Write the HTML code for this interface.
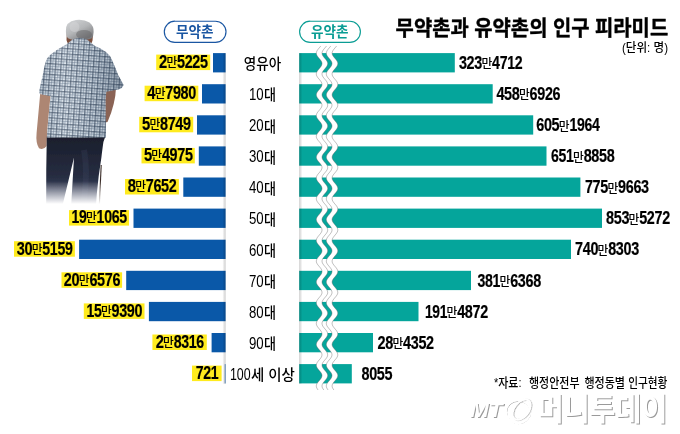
<!DOCTYPE html>
<html lang="ko">
<head>
<meta charset="utf-8">
<title>무약촌과 유약촌의 인구 피라미드</title>
<style>
html,body{margin:0;padding:0;background:#fff;}
body{width:680px;height:434px;overflow:hidden;font-family:"Liberation Sans","Noto Sans CJK KR",sans-serif;}
svg{display:block;}
</style>
</head>
<body>
<svg width="680" height="434" viewBox="0 0 680 434">
<defs>
<linearGradient id="shL" x1="0" x2="1" y1="0" y2="0"><stop offset="0" stop-color="#000" stop-opacity="0"/><stop offset="1" stop-color="#000" stop-opacity="0.2"/></linearGradient>
<linearGradient id="shR" x1="0" x2="1" y1="0" y2="0"><stop offset="0" stop-color="#000" stop-opacity="0.2"/><stop offset="1" stop-color="#000" stop-opacity="0"/></linearGradient>
<linearGradient id="fade" x1="0" x2="0" y1="181" y2="204" gradientUnits="userSpaceOnUse"><stop offset="0" stop-color="#fff" stop-opacity="0"/><stop offset="1" stop-color="#fff" stop-opacity="1"/></linearGradient>
<linearGradient id="hair" x1="0.1" x2="0.8" y1="0" y2="1"><stop offset="0" stop-color="#d2d4d6"/><stop offset="0.5" stop-color="#b4b6b8"/><stop offset="1" stop-color="#77777a"/></linearGradient>
<linearGradient id="pants" x1="0" x2="0" y1="137" y2="200" gradientUnits="userSpaceOnUse"><stop offset="0" stop-color="#1a1e2c"/><stop offset="0.6" stop-color="#262c40"/><stop offset="1" stop-color="#3a4360"/></linearGradient>
<linearGradient id="shade" x1="40" x2="123" y1="0" y2="0" gradientUnits="userSpaceOnUse"><stop offset="0" stop-color="#465a70" stop-opacity="0.15"/><stop offset="0.3" stop-color="#fff" stop-opacity="0.1"/><stop offset="0.65" stop-color="#465a70" stop-opacity="0.12"/><stop offset="1" stop-color="#2e4056" stop-opacity="0.4"/></linearGradient>
<pattern id="plaid" width="5.4" height="5.4" patternUnits="userSpaceOnUse" patternTransform="rotate(4)">
<rect width="5.4" height="5.4" fill="#cfdbe6"/>
<rect x="0" y="0" width="1.3" height="5.4" fill="#2b3b52" opacity="0.62"/>
<rect x="2.9" y="0" width="0.8" height="5.4" fill="#2b3b52" opacity="0.36"/>
<rect x="0" y="0" width="5.4" height="1.3" fill="#2b3b52" opacity="0.62"/>
<rect x="0" y="2.9" width="5.4" height="0.8" fill="#2b3b52" opacity="0.36"/>
<rect x="1.5" y="1.5" width="1.2" height="1.2" fill="#ffffff" opacity="0.6"/>
<rect x="3.9" y="3.9" width="1.3" height="1.3" fill="#ffffff" opacity="0.6"/>
</pattern>
<filter id="b05" x="-20%" y="-20%" width="140%" height="140%"><feGaussianBlur stdDeviation="0.5"/></filter>
<filter id="b1" x="-20%" y="-20%" width="140%" height="140%"><feGaussianBlur stdDeviation="0.9"/></filter>
<filter id="wmb" x="-10%" y="-20%" width="120%" height="140%"><feGaussianBlur stdDeviation="0.55"/></filter>
</defs>
<rect width="680" height="434" fill="#fff"/>
<g id="man">
<g filter="url(#b05)">
<path d="M66.8,33 L66.5,40 Q67.5,45 72,46.5 L88,46.5 Q91.6,45 92.6,40 L93,33 Z" fill="#7b4f3e"/>
<path d="M65.9,31 Q65.2,21.5 76,19.9 Q84,19 89.5,22.5 Q94,26 93.6,32 Q93.6,36.5 91.6,38.6 Q86,40.5 79.5,39.5 Q72,40.5 68,38.2 Q65.9,36 65.9,31 Z" fill="url(#hair)"/>
<ellipse cx="84" cy="34.5" rx="8" ry="4.5" fill="#5e5e60" opacity="0.45"/>
<ellipse cx="74.5" cy="27" rx="5" ry="5" fill="#d6d8da" opacity="0.45"/>
<path d="M40.2,93.5 L50.5,95.5 L48.4,118 Q47.4,128 46.6,146 Q43.5,150.5 39,148.3 Q35.6,143 36.6,133 Z" fill="#ad8673"/>
<path d="M104,88.5 L116,87.5 Q115.5,104 107.5,122 L103,123 Z" fill="#8a6454"/>
<path d="M46.8,136.5 L105.3,136.5 L103.4,142 Q102,152 101.4,157.6 L98.7,176 L96.8,194 L96,205 L71.2,205 L74,157.4 L62.6,205 L46.2,205 Q46,170 46.8,136.5 Z" fill="url(#pants)"/>
<path d="M84,150 Q88,170 84,200" stroke="#4d5a7c" stroke-width="6" fill="none" opacity="0.18"/>
<path d="M101.2,165 L99.4,204" stroke="#3a2c28" stroke-width="1.1" fill="none"/>
<path id="shirt" d="M72.5,39.4 Q79.5,36.6 87,39.4 L92,43.4 L94.2,45.4 Q101,48 106,52 Q110,55 112,60 Q115.5,68 118.2,75 L123.6,85 Q122.5,88.3 119,89.3 L106.3,91.8 L105.6,100 L106,137.6 L46.8,137.6 L49.2,110 L50.8,96.3 L39.8,94 Q38.9,92 39.4,90 L42.8,75 Q44.5,64 47,58.5 Q50,54.5 54,52 Q59,48.5 64.5,45.6 L67.5,43.4 Z" fill="url(#plaid)"/>
<path d="M72.5,39.4 Q79.5,36.6 87,39.4 L92,43.4 L94.2,45.4 Q101,48 106,52 Q110,55 112,60 Q115.5,68 118.2,75 L123.6,85 Q122.5,88.3 119,89.3 L106.3,91.8 L105.6,100 L106,137.6 L46.8,137.6 L49.2,110 L50.8,96.3 L39.8,94 Q38.9,92 39.4,90 L42.8,75 Q44.5,64 47,58.5 Q50,54.5 54,52 Q59,48.5 64.5,45.6 L67.5,43.4 Z" fill="url(#shade)"/>
</g>
<rect x="30" y="176" width="90" height="31" fill="url(#fade)"/>
</g>
<rect x="213.00" y="53.10" width="12.60" height="19.3" fill="#0a58a8"/>
<rect x="299.20" y="53.10" width="155.60" height="19.3" fill="#05a59b"/>
<rect x="202.00" y="84.20" width="23.60" height="19.3" fill="#0a58a8"/>
<rect x="299.20" y="84.20" width="193.50" height="19.3" fill="#05a59b"/>
<rect x="197.00" y="115.30" width="28.60" height="19.3" fill="#0a58a8"/>
<rect x="299.20" y="115.30" width="234.00" height="19.3" fill="#05a59b"/>
<rect x="198.80" y="146.40" width="26.80" height="19.3" fill="#0a58a8"/>
<rect x="299.20" y="146.40" width="247.30" height="19.3" fill="#05a59b"/>
<rect x="183.30" y="177.50" width="42.30" height="19.3" fill="#0a58a8"/>
<rect x="299.20" y="177.50" width="281.20" height="19.3" fill="#05a59b"/>
<rect x="133.50" y="208.60" width="92.10" height="19.3" fill="#0a58a8"/>
<rect x="299.20" y="208.60" width="302.80" height="19.3" fill="#05a59b"/>
<rect x="79.10" y="239.70" width="146.50" height="19.3" fill="#0a58a8"/>
<rect x="299.20" y="239.70" width="271.80" height="19.3" fill="#05a59b"/>
<rect x="126.20" y="270.80" width="99.40" height="19.3" fill="#0a58a8"/>
<rect x="299.20" y="270.80" width="171.80" height="19.3" fill="#05a59b"/>
<rect x="148.90" y="301.90" width="76.70" height="19.3" fill="#0a58a8"/>
<rect x="299.20" y="301.90" width="119.30" height="19.3" fill="#05a59b"/>
<rect x="211.60" y="333.00" width="14.00" height="19.3" fill="#0a58a8"/>
<rect x="299.20" y="333.00" width="73.80" height="19.3" fill="#05a59b"/>
<rect x="224.70" y="364.10" width="0.9" height="19.3" fill="#0a58a8" opacity="0.7"/>
<rect x="299.20" y="364.10" width="52.60" height="19.3" fill="#05a59b"/>
<rect x="222.40" y="53.10" width="3.2" height="330.70" fill="url(#shL)"/>
<rect x="299.20" y="53.10" width="3.2" height="330.70" fill="url(#shR)"/>
<path d="M320.8,46L320.0,47L319.1,48L318.3,49L317.5,50L316.9,51L316.5,52L316.3,53L316.4,54L316.7,55L317.3,56L318.0,57L318.8,58L319.7,59L320.5,60L321.2,61L321.7,62L322.0,63L322.0,64L321.7,65L321.3,66L320.6,67L319.8,68L319.0,69L318.1,70L317.4,71L316.8,72L316.4,73L316.3,74L316.4,75L316.8,76L317.4,77L318.1,78L319.0,79L319.8,80L320.6,81L321.3,82L321.7,83L322.0,84L322.0,85L321.7,86L321.2,87L320.5,88L319.7,89L318.8,90L318.0,91L317.3,92L316.7,93L316.4,94L316.3,95L316.5,96L316.9,97L317.5,98L318.3,99L319.1,100L320.0,101L320.8,102L321.4,103L321.8,104L322.0,105L321.9,106L321.6,107L321.0,108L320.3,109L319.5,110L318.6,111L317.8,112L317.1,113L316.6,114L316.3,115L316.3,116L316.6,117L317.0,118L317.7,119L318.5,120L319.3,121L320.2,122L320.9,123L321.5,124L321.9,125L322.0,126L321.9,127L321.5,128L320.9,129L320.2,130L319.3,131L318.5,132L317.7,133L317.0,134L316.6,135L316.3,136L316.3,137L316.6,138L317.1,139L317.8,140L318.6,141L319.5,142L320.3,143L321.0,144L321.6,145L321.9,146L322.0,147L321.8,148L321.4,149L320.8,150L320.0,151L319.1,152L318.3,153L317.5,154L316.9,155L316.5,156L316.3,157L316.4,158L316.7,159L317.3,160L318.0,161L318.8,162L319.7,163L320.5,164L321.2,165L321.7,166L322.0,167L322.0,168L321.7,169L321.3,170L320.6,171L319.8,172L319.0,173L318.1,174L317.4,175L316.8,176L316.4,177L316.3,178L316.4,179L316.8,180L317.4,181L318.1,182L319.0,183L319.8,184L320.6,185L321.3,186L321.7,187L322.0,188L322.0,189L321.7,190L321.2,191L320.5,192L319.7,193L318.8,194L318.0,195L317.3,196L316.7,197L316.4,198L316.3,199L316.5,200L316.9,201L317.5,202L318.3,203L319.1,204L320.0,205L320.8,206L321.4,207L321.8,208L322.0,209L321.9,210L321.6,211L321.0,212L320.3,213L319.5,214L318.6,215L317.8,216L317.1,217L316.6,218L316.3,219L316.3,220L316.6,221L317.0,222L317.7,223L318.5,224L319.3,225L320.2,226L320.9,227L321.5,228L321.9,229L322.0,230L321.9,231L321.5,232L320.9,233L320.2,234L319.3,235L318.5,236L317.7,237L317.0,238L316.6,239L316.3,240L316.3,241L316.6,242L317.1,243L317.8,244L318.6,245L319.5,246L320.3,247L321.0,248L321.6,249L321.9,250L322.0,251L321.8,252L321.4,253L320.8,254L320.0,255L319.1,256L318.3,257L317.5,258L316.9,259L316.5,260L316.3,261L316.4,262L316.7,263L317.3,264L318.0,265L318.8,266L319.7,267L320.5,268L321.2,269L321.7,270L322.0,271L322.0,272L321.7,273L321.3,274L320.6,275L319.8,276L319.0,277L318.1,278L317.4,279L316.8,280L316.4,281L316.3,282L316.4,283L316.8,284L317.4,285L318.1,286L319.0,287L319.8,288L320.6,289L321.3,290L321.7,291L322.0,292L322.0,293L321.7,294L321.2,295L320.5,296L319.7,297L318.8,298L318.0,299L317.3,300L316.7,301L316.4,302L316.3,303L316.5,304L316.9,305L317.5,306L318.3,307L319.1,308L320.0,309L320.8,310L321.4,311L321.8,312L322.0,313L321.9,314L321.6,315L321.0,316L320.3,317L319.5,318L318.6,319L317.8,320L317.1,321L316.6,322L316.3,323L316.3,324L316.6,325L317.0,326L317.7,327L318.5,328L319.3,329L320.2,330L320.9,331L321.5,332L321.9,333L322.0,334L321.9,335L321.5,336L320.9,337L320.2,338L319.3,339L318.5,340L317.7,341L317.0,342L316.6,343L316.3,344L316.3,345L316.6,346L317.1,347L317.8,348L318.6,349L319.5,350L320.3,351L321.0,352L321.6,353L321.9,354L322.0,355L321.8,356L321.4,357L320.8,358L320.0,359L319.1,360L318.3,361L317.5,362L316.9,363L316.5,364L316.3,365L316.4,366L316.7,367L317.3,368L318.0,369L318.8,370L319.7,371L320.5,372L321.2,373L321.7,374L322.0,375L322.0,376L321.7,377L321.3,378L320.6,379L319.8,380L319.0,381L318.1,382L317.4,383L316.8,384L316.4,385L316.3,386L316.4,387L316.8,388L317.4,389L318.1,390L323.8,390L323.1,389L322.5,388L322.1,387L322.0,386L322.1,385L322.5,384L323.1,383L323.8,382L324.7,381L325.5,380L326.3,379L327.0,378L327.4,377L327.7,376L327.7,375L327.4,374L326.9,373L326.2,372L325.4,371L324.5,370L323.7,369L323.0,368L322.4,367L322.1,366L322.0,365L322.2,364L322.6,363L323.2,362L324.0,361L324.8,360L325.7,359L326.5,358L327.1,357L327.5,356L327.7,355L327.6,354L327.3,353L326.7,352L326.0,351L325.2,350L324.3,349L323.5,348L322.8,347L322.3,346L322.0,345L322.0,344L322.3,343L322.7,342L323.4,341L324.2,340L325.0,339L325.9,338L326.6,337L327.2,336L327.6,335L327.7,334L327.6,333L327.2,332L326.6,331L325.9,330L325.0,329L324.2,328L323.4,327L322.7,326L322.3,325L322.0,324L322.0,323L322.3,322L322.8,321L323.5,320L324.3,319L325.2,318L326.0,317L326.7,316L327.3,315L327.6,314L327.7,313L327.5,312L327.1,311L326.5,310L325.7,309L324.8,308L324.0,307L323.2,306L322.6,305L322.2,304L322.0,303L322.1,302L322.4,301L323.0,300L323.7,299L324.5,298L325.4,297L326.2,296L326.9,295L327.4,294L327.7,293L327.7,292L327.4,291L327.0,290L326.3,289L325.5,288L324.7,287L323.8,286L323.1,285L322.5,284L322.1,283L322.0,282L322.1,281L322.5,280L323.1,279L323.8,278L324.7,277L325.5,276L326.3,275L327.0,274L327.4,273L327.7,272L327.7,271L327.4,270L326.9,269L326.2,268L325.4,267L324.5,266L323.7,265L323.0,264L322.4,263L322.1,262L322.0,261L322.2,260L322.6,259L323.2,258L324.0,257L324.8,256L325.7,255L326.5,254L327.1,253L327.5,252L327.7,251L327.6,250L327.3,249L326.7,248L326.0,247L325.2,246L324.3,245L323.5,244L322.8,243L322.3,242L322.0,241L322.0,240L322.3,239L322.7,238L323.4,237L324.2,236L325.0,235L325.9,234L326.6,233L327.2,232L327.6,231L327.7,230L327.6,229L327.2,228L326.6,227L325.9,226L325.0,225L324.2,224L323.4,223L322.7,222L322.3,221L322.0,220L322.0,219L322.3,218L322.8,217L323.5,216L324.3,215L325.2,214L326.0,213L326.7,212L327.3,211L327.6,210L327.7,209L327.5,208L327.1,207L326.5,206L325.7,205L324.8,204L324.0,203L323.2,202L322.6,201L322.2,200L322.0,199L322.1,198L322.4,197L323.0,196L323.7,195L324.5,194L325.4,193L326.2,192L326.9,191L327.4,190L327.7,189L327.7,188L327.4,187L327.0,186L326.3,185L325.5,184L324.7,183L323.8,182L323.1,181L322.5,180L322.1,179L322.0,178L322.1,177L322.5,176L323.1,175L323.8,174L324.7,173L325.5,172L326.3,171L327.0,170L327.4,169L327.7,168L327.7,167L327.4,166L326.9,165L326.2,164L325.4,163L324.5,162L323.7,161L323.0,160L322.4,159L322.1,158L322.0,157L322.2,156L322.6,155L323.2,154L324.0,153L324.8,152L325.7,151L326.5,150L327.1,149L327.5,148L327.7,147L327.6,146L327.3,145L326.7,144L326.0,143L325.2,142L324.3,141L323.5,140L322.8,139L322.3,138L322.0,137L322.0,136L322.3,135L322.7,134L323.4,133L324.2,132L325.0,131L325.9,130L326.6,129L327.2,128L327.6,127L327.7,126L327.6,125L327.2,124L326.6,123L325.9,122L325.0,121L324.2,120L323.4,119L322.7,118L322.3,117L322.0,116L322.0,115L322.3,114L322.8,113L323.5,112L324.3,111L325.2,110L326.0,109L326.7,108L327.3,107L327.6,106L327.7,105L327.5,104L327.1,103L326.5,102L325.7,101L324.8,100L324.0,99L323.2,98L322.6,97L322.2,96L322.0,95L322.1,94L322.4,93L323.0,92L323.7,91L324.5,90L325.4,89L326.2,88L326.9,87L327.4,86L327.7,85L327.7,84L327.4,83L327.0,82L326.3,81L325.5,80L324.7,79L323.8,78L323.1,77L322.5,76L322.1,75L322.0,74L322.1,73L322.5,72L323.1,71L323.8,70L324.7,69L325.5,68L326.3,67L327.0,66L327.4,65L327.7,64L327.7,63L327.4,62L326.9,61L326.2,60L325.4,59L324.5,58L323.7,57L323.0,56L322.4,55L322.1,54L322.0,53L322.2,52L322.6,51L323.2,50L324.0,49L324.8,48L325.7,47L326.5,46Z" fill="#fff"/>
<path d="M330.8,46L330.0,47L329.1,48L328.3,49L327.5,50L326.9,51L326.5,52L326.3,53L326.4,54L326.7,55L327.3,56L328.0,57L328.8,58L329.7,59L330.5,60L331.2,61L331.7,62L332.0,63L332.0,64L331.7,65L331.3,66L330.6,67L329.8,68L329.0,69L328.1,70L327.4,71L326.8,72L326.4,73L326.3,74L326.4,75L326.8,76L327.4,77L328.1,78L329.0,79L329.8,80L330.6,81L331.3,82L331.7,83L332.0,84L332.0,85L331.7,86L331.2,87L330.5,88L329.7,89L328.8,90L328.0,91L327.3,92L326.7,93L326.4,94L326.3,95L326.5,96L326.9,97L327.5,98L328.3,99L329.1,100L330.0,101L330.8,102L331.4,103L331.8,104L332.0,105L331.9,106L331.6,107L331.0,108L330.3,109L329.5,110L328.6,111L327.8,112L327.1,113L326.6,114L326.3,115L326.3,116L326.6,117L327.0,118L327.7,119L328.5,120L329.3,121L330.2,122L330.9,123L331.5,124L331.9,125L332.0,126L331.9,127L331.5,128L330.9,129L330.2,130L329.3,131L328.5,132L327.7,133L327.0,134L326.6,135L326.3,136L326.3,137L326.6,138L327.1,139L327.8,140L328.6,141L329.5,142L330.3,143L331.0,144L331.6,145L331.9,146L332.0,147L331.8,148L331.4,149L330.8,150L330.0,151L329.1,152L328.3,153L327.5,154L326.9,155L326.5,156L326.3,157L326.4,158L326.7,159L327.3,160L328.0,161L328.8,162L329.7,163L330.5,164L331.2,165L331.7,166L332.0,167L332.0,168L331.7,169L331.3,170L330.6,171L329.8,172L329.0,173L328.1,174L327.4,175L326.8,176L326.4,177L326.3,178L326.4,179L326.8,180L327.4,181L328.1,182L329.0,183L329.8,184L330.6,185L331.3,186L331.7,187L332.0,188L332.0,189L331.7,190L331.2,191L330.5,192L329.7,193L328.8,194L328.0,195L327.3,196L326.7,197L326.4,198L326.3,199L326.5,200L326.9,201L327.5,202L328.3,203L329.1,204L330.0,205L330.8,206L331.4,207L331.8,208L332.0,209L331.9,210L331.6,211L331.0,212L330.3,213L329.5,214L328.6,215L327.8,216L327.1,217L326.6,218L326.3,219L326.3,220L326.6,221L327.0,222L327.7,223L328.5,224L329.3,225L330.2,226L330.9,227L331.5,228L331.9,229L332.0,230L331.9,231L331.5,232L330.9,233L330.2,234L329.3,235L328.5,236L327.7,237L327.0,238L326.6,239L326.3,240L326.3,241L326.6,242L327.1,243L327.8,244L328.6,245L329.5,246L330.3,247L331.0,248L331.6,249L331.9,250L332.0,251L331.8,252L331.4,253L330.8,254L330.0,255L329.1,256L328.3,257L327.5,258L326.9,259L326.5,260L326.3,261L326.4,262L326.7,263L327.3,264L328.0,265L328.8,266L329.7,267L330.5,268L331.2,269L331.7,270L332.0,271L332.0,272L331.7,273L331.3,274L330.6,275L329.8,276L329.0,277L328.1,278L327.4,279L326.8,280L326.4,281L326.3,282L326.4,283L326.8,284L327.4,285L328.1,286L329.0,287L329.8,288L330.6,289L331.3,290L331.7,291L332.0,292L332.0,293L331.7,294L331.2,295L330.5,296L329.7,297L328.8,298L328.0,299L327.3,300L326.7,301L326.4,302L326.3,303L326.5,304L326.9,305L327.5,306L328.3,307L329.1,308L330.0,309L330.8,310L331.4,311L331.8,312L332.0,313L331.9,314L331.6,315L331.0,316L330.3,317L329.5,318L328.6,319L327.8,320L327.1,321L326.6,322L326.3,323L326.3,324L326.6,325L327.0,326L327.7,327L328.5,328L329.3,329L330.2,330L330.9,331L331.5,332L331.9,333L332.0,334L331.9,335L331.5,336L330.9,337L330.2,338L329.3,339L328.5,340L327.7,341L327.0,342L326.6,343L326.3,344L326.3,345L326.6,346L327.1,347L327.8,348L328.6,349L329.5,350L330.3,351L331.0,352L331.6,353L331.9,354L332.0,355L331.8,356L331.4,357L330.8,358L330.0,359L329.1,360L328.3,361L327.5,362L326.9,363L326.5,364L326.3,365L326.4,366L326.7,367L327.3,368L328.0,369L328.8,370L329.7,371L330.5,372L331.2,373L331.7,374L332.0,375L332.0,376L331.7,377L331.3,378L330.6,379L329.8,380L329.0,381L328.1,382L327.4,383L326.8,384L326.4,385L326.3,386L326.4,387L326.8,388L327.4,389L328.1,390L333.9,390L333.2,389L332.6,388L332.2,387L332.1,386L332.2,385L332.6,384L333.2,383L333.9,382L334.8,381L335.6,380L336.4,379L337.1,378L337.5,377L337.8,376L337.8,375L337.5,374L337.0,373L336.3,372L335.5,371L334.6,370L333.8,369L333.1,368L332.5,367L332.2,366L332.1,365L332.3,364L332.7,363L333.3,362L334.1,361L334.9,360L335.8,359L336.6,358L337.2,357L337.6,356L337.8,355L337.7,354L337.4,353L336.8,352L336.1,351L335.3,350L334.4,349L333.6,348L332.9,347L332.4,346L332.1,345L332.1,344L332.4,343L332.8,342L333.5,341L334.3,340L335.1,339L336.0,338L336.7,337L337.3,336L337.7,335L337.8,334L337.7,333L337.3,332L336.7,331L336.0,330L335.1,329L334.3,328L333.5,327L332.8,326L332.4,325L332.1,324L332.1,323L332.4,322L332.9,321L333.6,320L334.4,319L335.3,318L336.1,317L336.8,316L337.4,315L337.7,314L337.8,313L337.6,312L337.2,311L336.6,310L335.8,309L334.9,308L334.1,307L333.3,306L332.7,305L332.3,304L332.1,303L332.2,302L332.5,301L333.1,300L333.8,299L334.6,298L335.5,297L336.3,296L337.0,295L337.5,294L337.8,293L337.8,292L337.5,291L337.1,290L336.4,289L335.6,288L334.8,287L333.9,286L333.2,285L332.6,284L332.2,283L332.1,282L332.2,281L332.6,280L333.2,279L333.9,278L334.8,277L335.6,276L336.4,275L337.1,274L337.5,273L337.8,272L337.8,271L337.5,270L337.0,269L336.3,268L335.5,267L334.6,266L333.8,265L333.1,264L332.5,263L332.2,262L332.1,261L332.3,260L332.7,259L333.3,258L334.1,257L334.9,256L335.8,255L336.6,254L337.2,253L337.6,252L337.8,251L337.7,250L337.4,249L336.8,248L336.1,247L335.3,246L334.4,245L333.6,244L332.9,243L332.4,242L332.1,241L332.1,240L332.4,239L332.8,238L333.5,237L334.3,236L335.1,235L336.0,234L336.7,233L337.3,232L337.7,231L337.8,230L337.7,229L337.3,228L336.7,227L336.0,226L335.1,225L334.3,224L333.5,223L332.8,222L332.4,221L332.1,220L332.1,219L332.4,218L332.9,217L333.6,216L334.4,215L335.3,214L336.1,213L336.8,212L337.4,211L337.7,210L337.8,209L337.6,208L337.2,207L336.6,206L335.8,205L334.9,204L334.1,203L333.3,202L332.7,201L332.3,200L332.1,199L332.2,198L332.5,197L333.1,196L333.8,195L334.6,194L335.5,193L336.3,192L337.0,191L337.5,190L337.8,189L337.8,188L337.5,187L337.1,186L336.4,185L335.6,184L334.8,183L333.9,182L333.2,181L332.6,180L332.2,179L332.1,178L332.2,177L332.6,176L333.2,175L333.9,174L334.8,173L335.6,172L336.4,171L337.1,170L337.5,169L337.8,168L337.8,167L337.5,166L337.0,165L336.3,164L335.5,163L334.6,162L333.8,161L333.1,160L332.5,159L332.2,158L332.1,157L332.3,156L332.7,155L333.3,154L334.1,153L334.9,152L335.8,151L336.6,150L337.2,149L337.6,148L337.8,147L337.7,146L337.4,145L336.8,144L336.1,143L335.3,142L334.4,141L333.6,140L332.9,139L332.4,138L332.1,137L332.1,136L332.4,135L332.8,134L333.5,133L334.3,132L335.1,131L336.0,130L336.7,129L337.3,128L337.7,127L337.8,126L337.7,125L337.3,124L336.7,123L336.0,122L335.1,121L334.3,120L333.5,119L332.8,118L332.4,117L332.1,116L332.1,115L332.4,114L332.9,113L333.6,112L334.4,111L335.3,110L336.1,109L336.8,108L337.4,107L337.7,106L337.8,105L337.6,104L337.2,103L336.6,102L335.8,101L334.9,100L334.1,99L333.3,98L332.7,97L332.3,96L332.1,95L332.2,94L332.5,93L333.1,92L333.8,91L334.6,90L335.5,89L336.3,88L337.0,87L337.5,86L337.8,85L337.8,84L337.5,83L337.1,82L336.4,81L335.6,80L334.8,79L333.9,78L333.2,77L332.6,76L332.2,75L332.1,74L332.2,73L332.6,72L333.2,71L333.9,70L334.8,69L335.6,68L336.4,67L337.1,66L337.5,65L337.8,64L337.8,63L337.5,62L337.0,61L336.3,60L335.5,59L334.6,58L333.8,57L333.1,56L332.5,55L332.2,54L332.1,53L332.3,52L332.7,51L333.3,50L334.1,49L334.9,48L335.8,47L336.6,46Z" fill="#fff"/>
<path d="M320.8,46L320.0,47L319.1,48L318.3,49L317.5,50L316.9,51L316.5,52L316.3,53L316.4,54L316.7,55L317.3,56L318.0,57L318.8,58L319.7,59L320.5,60L321.2,61L321.7,62L322.0,63L322.0,64L321.7,65L321.3,66L320.6,67L319.8,68L319.0,69L318.1,70L317.4,71L316.8,72L316.4,73L316.3,74L316.4,75L316.8,76L317.4,77L318.1,78L319.0,79L319.8,80L320.6,81L321.3,82L321.7,83L322.0,84L322.0,85L321.7,86L321.2,87L320.5,88L319.7,89L318.8,90L318.0,91L317.3,92L316.7,93L316.4,94L316.3,95L316.5,96L316.9,97L317.5,98L318.3,99L319.1,100L320.0,101L320.8,102L321.4,103L321.8,104L322.0,105L321.9,106L321.6,107L321.0,108L320.3,109L319.5,110L318.6,111L317.8,112L317.1,113L316.6,114L316.3,115L316.3,116L316.6,117L317.0,118L317.7,119L318.5,120L319.3,121L320.2,122L320.9,123L321.5,124L321.9,125L322.0,126L321.9,127L321.5,128L320.9,129L320.2,130L319.3,131L318.5,132L317.7,133L317.0,134L316.6,135L316.3,136L316.3,137L316.6,138L317.1,139L317.8,140L318.6,141L319.5,142L320.3,143L321.0,144L321.6,145L321.9,146L322.0,147L321.8,148L321.4,149L320.8,150L320.0,151L319.1,152L318.3,153L317.5,154L316.9,155L316.5,156L316.3,157L316.4,158L316.7,159L317.3,160L318.0,161L318.8,162L319.7,163L320.5,164L321.2,165L321.7,166L322.0,167L322.0,168L321.7,169L321.3,170L320.6,171L319.8,172L319.0,173L318.1,174L317.4,175L316.8,176L316.4,177L316.3,178L316.4,179L316.8,180L317.4,181L318.1,182L319.0,183L319.8,184L320.6,185L321.3,186L321.7,187L322.0,188L322.0,189L321.7,190L321.2,191L320.5,192L319.7,193L318.8,194L318.0,195L317.3,196L316.7,197L316.4,198L316.3,199L316.5,200L316.9,201L317.5,202L318.3,203L319.1,204L320.0,205L320.8,206L321.4,207L321.8,208L322.0,209L321.9,210L321.6,211L321.0,212L320.3,213L319.5,214L318.6,215L317.8,216L317.1,217L316.6,218L316.3,219L316.3,220L316.6,221L317.0,222L317.7,223L318.5,224L319.3,225L320.2,226L320.9,227L321.5,228L321.9,229L322.0,230L321.9,231L321.5,232L320.9,233L320.2,234L319.3,235L318.5,236L317.7,237L317.0,238L316.6,239L316.3,240L316.3,241L316.6,242L317.1,243L317.8,244L318.6,245L319.5,246L320.3,247L321.0,248L321.6,249L321.9,250L322.0,251L321.8,252L321.4,253L320.8,254L320.0,255L319.1,256L318.3,257L317.5,258L316.9,259L316.5,260L316.3,261L316.4,262L316.7,263L317.3,264L318.0,265L318.8,266L319.7,267L320.5,268L321.2,269L321.7,270L322.0,271L322.0,272L321.7,273L321.3,274L320.6,275L319.8,276L319.0,277L318.1,278L317.4,279L316.8,280L316.4,281L316.3,282L316.4,283L316.8,284L317.4,285L318.1,286L319.0,287L319.8,288L320.6,289L321.3,290L321.7,291L322.0,292L322.0,293L321.7,294L321.2,295L320.5,296L319.7,297L318.8,298L318.0,299L317.3,300L316.7,301L316.4,302L316.3,303L316.5,304L316.9,305L317.5,306L318.3,307L319.1,308L320.0,309L320.8,310L321.4,311L321.8,312L322.0,313L321.9,314L321.6,315L321.0,316L320.3,317L319.5,318L318.6,319L317.8,320L317.1,321L316.6,322L316.3,323L316.3,324L316.6,325L317.0,326L317.7,327L318.5,328L319.3,329L320.2,330L320.9,331L321.5,332L321.9,333L322.0,334L321.9,335L321.5,336L320.9,337L320.2,338L319.3,339L318.5,340L317.7,341L317.0,342L316.6,343L316.3,344L316.3,345L316.6,346L317.1,347L317.8,348L318.6,349L319.5,350L320.3,351L321.0,352L321.6,353L321.9,354L322.0,355L321.8,356L321.4,357L320.8,358L320.0,359L319.1,360L318.3,361L317.5,362L316.9,363L316.5,364L316.3,365L316.4,366L316.7,367L317.3,368L318.0,369L318.8,370L319.7,371L320.5,372L321.2,373L321.7,374L322.0,375L322.0,376L321.7,377L321.3,378L320.6,379L319.8,380L319.0,381L318.1,382L317.4,383L316.8,384L316.4,385L316.3,386L316.4,387L316.8,388L317.4,389L318.1,390" fill="none" stroke="#5a5a5a" stroke-width="0.38"/>
<path d="M326.5,46L325.7,47L324.8,48L324.0,49L323.2,50L322.6,51L322.2,52L322.0,53L322.1,54L322.4,55L323.0,56L323.7,57L324.5,58L325.4,59L326.2,60L326.9,61L327.4,62L327.7,63L327.7,64L327.4,65L327.0,66L326.3,67L325.5,68L324.7,69L323.8,70L323.1,71L322.5,72L322.1,73L322.0,74L322.1,75L322.5,76L323.1,77L323.8,78L324.7,79L325.5,80L326.3,81L327.0,82L327.4,83L327.7,84L327.7,85L327.4,86L326.9,87L326.2,88L325.4,89L324.5,90L323.7,91L323.0,92L322.4,93L322.1,94L322.0,95L322.2,96L322.6,97L323.2,98L324.0,99L324.8,100L325.7,101L326.5,102L327.1,103L327.5,104L327.7,105L327.6,106L327.3,107L326.7,108L326.0,109L325.2,110L324.3,111L323.5,112L322.8,113L322.3,114L322.0,115L322.0,116L322.3,117L322.7,118L323.4,119L324.2,120L325.0,121L325.9,122L326.6,123L327.2,124L327.6,125L327.7,126L327.6,127L327.2,128L326.6,129L325.9,130L325.0,131L324.2,132L323.4,133L322.7,134L322.3,135L322.0,136L322.0,137L322.3,138L322.8,139L323.5,140L324.3,141L325.2,142L326.0,143L326.7,144L327.3,145L327.6,146L327.7,147L327.5,148L327.1,149L326.5,150L325.7,151L324.8,152L324.0,153L323.2,154L322.6,155L322.2,156L322.0,157L322.1,158L322.4,159L323.0,160L323.7,161L324.5,162L325.4,163L326.2,164L326.9,165L327.4,166L327.7,167L327.7,168L327.4,169L327.0,170L326.3,171L325.5,172L324.7,173L323.8,174L323.1,175L322.5,176L322.1,177L322.0,178L322.1,179L322.5,180L323.1,181L323.8,182L324.7,183L325.5,184L326.3,185L327.0,186L327.4,187L327.7,188L327.7,189L327.4,190L326.9,191L326.2,192L325.4,193L324.5,194L323.7,195L323.0,196L322.4,197L322.1,198L322.0,199L322.2,200L322.6,201L323.2,202L324.0,203L324.8,204L325.7,205L326.5,206L327.1,207L327.5,208L327.7,209L327.6,210L327.3,211L326.7,212L326.0,213L325.2,214L324.3,215L323.5,216L322.8,217L322.3,218L322.0,219L322.0,220L322.3,221L322.7,222L323.4,223L324.2,224L325.0,225L325.9,226L326.6,227L327.2,228L327.6,229L327.7,230L327.6,231L327.2,232L326.6,233L325.9,234L325.0,235L324.2,236L323.4,237L322.7,238L322.3,239L322.0,240L322.0,241L322.3,242L322.8,243L323.5,244L324.3,245L325.2,246L326.0,247L326.7,248L327.3,249L327.6,250L327.7,251L327.5,252L327.1,253L326.5,254L325.7,255L324.8,256L324.0,257L323.2,258L322.6,259L322.2,260L322.0,261L322.1,262L322.4,263L323.0,264L323.7,265L324.5,266L325.4,267L326.2,268L326.9,269L327.4,270L327.7,271L327.7,272L327.4,273L327.0,274L326.3,275L325.5,276L324.7,277L323.8,278L323.1,279L322.5,280L322.1,281L322.0,282L322.1,283L322.5,284L323.1,285L323.8,286L324.7,287L325.5,288L326.3,289L327.0,290L327.4,291L327.7,292L327.7,293L327.4,294L326.9,295L326.2,296L325.4,297L324.5,298L323.7,299L323.0,300L322.4,301L322.1,302L322.0,303L322.2,304L322.6,305L323.2,306L324.0,307L324.8,308L325.7,309L326.5,310L327.1,311L327.5,312L327.7,313L327.6,314L327.3,315L326.7,316L326.0,317L325.2,318L324.3,319L323.5,320L322.8,321L322.3,322L322.0,323L322.0,324L322.3,325L322.7,326L323.4,327L324.2,328L325.0,329L325.9,330L326.6,331L327.2,332L327.6,333L327.7,334L327.6,335L327.2,336L326.6,337L325.9,338L325.0,339L324.2,340L323.4,341L322.7,342L322.3,343L322.0,344L322.0,345L322.3,346L322.8,347L323.5,348L324.3,349L325.2,350L326.0,351L326.7,352L327.3,353L327.6,354L327.7,355L327.5,356L327.1,357L326.5,358L325.7,359L324.8,360L324.0,361L323.2,362L322.6,363L322.2,364L322.0,365L322.1,366L322.4,367L323.0,368L323.7,369L324.5,370L325.4,371L326.2,372L326.9,373L327.4,374L327.7,375L327.7,376L327.4,377L327.0,378L326.3,379L325.5,380L324.7,381L323.8,382L323.1,383L322.5,384L322.1,385L322.0,386L322.1,387L322.5,388L323.1,389L323.8,390" fill="none" stroke="#5a5a5a" stroke-width="0.38"/>
<path d="M330.8,46L330.0,47L329.1,48L328.3,49L327.5,50L326.9,51L326.5,52L326.3,53L326.4,54L326.7,55L327.3,56L328.0,57L328.8,58L329.7,59L330.5,60L331.2,61L331.7,62L332.0,63L332.0,64L331.7,65L331.3,66L330.6,67L329.8,68L329.0,69L328.1,70L327.4,71L326.8,72L326.4,73L326.3,74L326.4,75L326.8,76L327.4,77L328.1,78L329.0,79L329.8,80L330.6,81L331.3,82L331.7,83L332.0,84L332.0,85L331.7,86L331.2,87L330.5,88L329.7,89L328.8,90L328.0,91L327.3,92L326.7,93L326.4,94L326.3,95L326.5,96L326.9,97L327.5,98L328.3,99L329.1,100L330.0,101L330.8,102L331.4,103L331.8,104L332.0,105L331.9,106L331.6,107L331.0,108L330.3,109L329.5,110L328.6,111L327.8,112L327.1,113L326.6,114L326.3,115L326.3,116L326.6,117L327.0,118L327.7,119L328.5,120L329.3,121L330.2,122L330.9,123L331.5,124L331.9,125L332.0,126L331.9,127L331.5,128L330.9,129L330.2,130L329.3,131L328.5,132L327.7,133L327.0,134L326.6,135L326.3,136L326.3,137L326.6,138L327.1,139L327.8,140L328.6,141L329.5,142L330.3,143L331.0,144L331.6,145L331.9,146L332.0,147L331.8,148L331.4,149L330.8,150L330.0,151L329.1,152L328.3,153L327.5,154L326.9,155L326.5,156L326.3,157L326.4,158L326.7,159L327.3,160L328.0,161L328.8,162L329.7,163L330.5,164L331.2,165L331.7,166L332.0,167L332.0,168L331.7,169L331.3,170L330.6,171L329.8,172L329.0,173L328.1,174L327.4,175L326.8,176L326.4,177L326.3,178L326.4,179L326.8,180L327.4,181L328.1,182L329.0,183L329.8,184L330.6,185L331.3,186L331.7,187L332.0,188L332.0,189L331.7,190L331.2,191L330.5,192L329.7,193L328.8,194L328.0,195L327.3,196L326.7,197L326.4,198L326.3,199L326.5,200L326.9,201L327.5,202L328.3,203L329.1,204L330.0,205L330.8,206L331.4,207L331.8,208L332.0,209L331.9,210L331.6,211L331.0,212L330.3,213L329.5,214L328.6,215L327.8,216L327.1,217L326.6,218L326.3,219L326.3,220L326.6,221L327.0,222L327.7,223L328.5,224L329.3,225L330.2,226L330.9,227L331.5,228L331.9,229L332.0,230L331.9,231L331.5,232L330.9,233L330.2,234L329.3,235L328.5,236L327.7,237L327.0,238L326.6,239L326.3,240L326.3,241L326.6,242L327.1,243L327.8,244L328.6,245L329.5,246L330.3,247L331.0,248L331.6,249L331.9,250L332.0,251L331.8,252L331.4,253L330.8,254L330.0,255L329.1,256L328.3,257L327.5,258L326.9,259L326.5,260L326.3,261L326.4,262L326.7,263L327.3,264L328.0,265L328.8,266L329.7,267L330.5,268L331.2,269L331.7,270L332.0,271L332.0,272L331.7,273L331.3,274L330.6,275L329.8,276L329.0,277L328.1,278L327.4,279L326.8,280L326.4,281L326.3,282L326.4,283L326.8,284L327.4,285L328.1,286L329.0,287L329.8,288L330.6,289L331.3,290L331.7,291L332.0,292L332.0,293L331.7,294L331.2,295L330.5,296L329.7,297L328.8,298L328.0,299L327.3,300L326.7,301L326.4,302L326.3,303L326.5,304L326.9,305L327.5,306L328.3,307L329.1,308L330.0,309L330.8,310L331.4,311L331.8,312L332.0,313L331.9,314L331.6,315L331.0,316L330.3,317L329.5,318L328.6,319L327.8,320L327.1,321L326.6,322L326.3,323L326.3,324L326.6,325L327.0,326L327.7,327L328.5,328L329.3,329L330.2,330L330.9,331L331.5,332L331.9,333L332.0,334L331.9,335L331.5,336L330.9,337L330.2,338L329.3,339L328.5,340L327.7,341L327.0,342L326.6,343L326.3,344L326.3,345L326.6,346L327.1,347L327.8,348L328.6,349L329.5,350L330.3,351L331.0,352L331.6,353L331.9,354L332.0,355L331.8,356L331.4,357L330.8,358L330.0,359L329.1,360L328.3,361L327.5,362L326.9,363L326.5,364L326.3,365L326.4,366L326.7,367L327.3,368L328.0,369L328.8,370L329.7,371L330.5,372L331.2,373L331.7,374L332.0,375L332.0,376L331.7,377L331.3,378L330.6,379L329.8,380L329.0,381L328.1,382L327.4,383L326.8,384L326.4,385L326.3,386L326.4,387L326.8,388L327.4,389L328.1,390" fill="none" stroke="#5a5a5a" stroke-width="0.38"/>
<path d="M336.6,46L335.8,47L334.9,48L334.1,49L333.3,50L332.7,51L332.3,52L332.1,53L332.2,54L332.5,55L333.1,56L333.8,57L334.6,58L335.5,59L336.3,60L337.0,61L337.5,62L337.8,63L337.8,64L337.5,65L337.1,66L336.4,67L335.6,68L334.8,69L333.9,70L333.2,71L332.6,72L332.2,73L332.1,74L332.2,75L332.6,76L333.2,77L333.9,78L334.8,79L335.6,80L336.4,81L337.1,82L337.5,83L337.8,84L337.8,85L337.5,86L337.0,87L336.3,88L335.5,89L334.6,90L333.8,91L333.1,92L332.5,93L332.2,94L332.1,95L332.3,96L332.7,97L333.3,98L334.1,99L334.9,100L335.8,101L336.6,102L337.2,103L337.6,104L337.8,105L337.7,106L337.4,107L336.8,108L336.1,109L335.3,110L334.4,111L333.6,112L332.9,113L332.4,114L332.1,115L332.1,116L332.4,117L332.8,118L333.5,119L334.3,120L335.1,121L336.0,122L336.7,123L337.3,124L337.7,125L337.8,126L337.7,127L337.3,128L336.7,129L336.0,130L335.1,131L334.3,132L333.5,133L332.8,134L332.4,135L332.1,136L332.1,137L332.4,138L332.9,139L333.6,140L334.4,141L335.3,142L336.1,143L336.8,144L337.4,145L337.7,146L337.8,147L337.6,148L337.2,149L336.6,150L335.8,151L334.9,152L334.1,153L333.3,154L332.7,155L332.3,156L332.1,157L332.2,158L332.5,159L333.1,160L333.8,161L334.6,162L335.5,163L336.3,164L337.0,165L337.5,166L337.8,167L337.8,168L337.5,169L337.1,170L336.4,171L335.6,172L334.8,173L333.9,174L333.2,175L332.6,176L332.2,177L332.1,178L332.2,179L332.6,180L333.2,181L333.9,182L334.8,183L335.6,184L336.4,185L337.1,186L337.5,187L337.8,188L337.8,189L337.5,190L337.0,191L336.3,192L335.5,193L334.6,194L333.8,195L333.1,196L332.5,197L332.2,198L332.1,199L332.3,200L332.7,201L333.3,202L334.1,203L334.9,204L335.8,205L336.6,206L337.2,207L337.6,208L337.8,209L337.7,210L337.4,211L336.8,212L336.1,213L335.3,214L334.4,215L333.6,216L332.9,217L332.4,218L332.1,219L332.1,220L332.4,221L332.8,222L333.5,223L334.3,224L335.1,225L336.0,226L336.7,227L337.3,228L337.7,229L337.8,230L337.7,231L337.3,232L336.7,233L336.0,234L335.1,235L334.3,236L333.5,237L332.8,238L332.4,239L332.1,240L332.1,241L332.4,242L332.9,243L333.6,244L334.4,245L335.3,246L336.1,247L336.8,248L337.4,249L337.7,250L337.8,251L337.6,252L337.2,253L336.6,254L335.8,255L334.9,256L334.1,257L333.3,258L332.7,259L332.3,260L332.1,261L332.2,262L332.5,263L333.1,264L333.8,265L334.6,266L335.5,267L336.3,268L337.0,269L337.5,270L337.8,271L337.8,272L337.5,273L337.1,274L336.4,275L335.6,276L334.8,277L333.9,278L333.2,279L332.6,280L332.2,281L332.1,282L332.2,283L332.6,284L333.2,285L333.9,286L334.8,287L335.6,288L336.4,289L337.1,290L337.5,291L337.8,292L337.8,293L337.5,294L337.0,295L336.3,296L335.5,297L334.6,298L333.8,299L333.1,300L332.5,301L332.2,302L332.1,303L332.3,304L332.7,305L333.3,306L334.1,307L334.9,308L335.8,309L336.6,310L337.2,311L337.6,312L337.8,313L337.7,314L337.4,315L336.8,316L336.1,317L335.3,318L334.4,319L333.6,320L332.9,321L332.4,322L332.1,323L332.1,324L332.4,325L332.8,326L333.5,327L334.3,328L335.1,329L336.0,330L336.7,331L337.3,332L337.7,333L337.8,334L337.7,335L337.3,336L336.7,337L336.0,338L335.1,339L334.3,340L333.5,341L332.8,342L332.4,343L332.1,344L332.1,345L332.4,346L332.9,347L333.6,348L334.4,349L335.3,350L336.1,351L336.8,352L337.4,353L337.7,354L337.8,355L337.6,356L337.2,357L336.6,358L335.8,359L334.9,360L334.1,361L333.3,362L332.7,363L332.3,364L332.1,365L332.2,366L332.5,367L333.1,368L333.8,369L334.6,370L335.5,371L336.3,372L337.0,373L337.5,374L337.8,375L337.8,376L337.5,377L337.1,378L336.4,379L335.6,380L334.8,381L333.9,382L333.2,383L332.6,384L332.2,385L332.1,386L332.2,387L332.6,388L333.2,389L333.9,390" fill="none" stroke="#5a5a5a" stroke-width="0.38"/>
<rect x="156.20" y="54.60" width="54.00" height="15.5" fill="#ffeb1e"/>
<text x="159.00" y="67.90" font-family="Liberation Sans, sans-serif" font-size="18.0" font-weight="700" letter-spacing="-0.4" textLength="7.90" lengthAdjust="spacingAndGlyphs" stroke="#000" stroke-width="0.2" stroke-linejoin="round">2</text>
<text x="166.40" y="66.90" font-family="Liberation Sans, Noto Sans CJK KR, sans-serif" font-size="12.0" font-weight="500" textLength="10.80" lengthAdjust="spacingAndGlyphs">만</text>
<text x="177.00" y="67.90" font-family="Liberation Sans, sans-serif" font-size="18.0" font-weight="700" letter-spacing="-0.4" textLength="30.70" lengthAdjust="spacingAndGlyphs" stroke="#000" stroke-width="0.2" stroke-linejoin="round">5225</text>
<text x="243.65" y="69.30" font-family="Liberation Sans, Noto Sans CJK KR, sans-serif" font-size="14.6" font-weight="500" textLength="37.50" lengthAdjust="spacingAndGlyphs">영유아</text>
<text x="458.90" y="68.80" font-family="Liberation Sans, sans-serif" font-size="18.0" font-weight="700" letter-spacing="-0.4" textLength="23.10" lengthAdjust="spacingAndGlyphs" stroke="#000" stroke-width="0.2" stroke-linejoin="round">323</text>
<text x="481.50" y="68.30" font-family="Liberation Sans, Noto Sans CJK KR, sans-serif" font-size="12.0" font-weight="500" textLength="10.80" lengthAdjust="spacingAndGlyphs">만</text>
<text x="492.10" y="68.80" font-family="Liberation Sans, sans-serif" font-size="18.0" font-weight="700" letter-spacing="-0.4" textLength="30.20" lengthAdjust="spacingAndGlyphs" stroke="#000" stroke-width="0.2" stroke-linejoin="round">4712</text>
<rect x="144.60" y="85.70" width="53.70" height="15.5" fill="#ffeb1e"/>
<text x="147.25" y="99.00" font-family="Liberation Sans, sans-serif" font-size="18.0" font-weight="700" letter-spacing="-0.4" textLength="7.90" lengthAdjust="spacingAndGlyphs" stroke="#000" stroke-width="0.2" stroke-linejoin="round">4</text>
<text x="154.65" y="98.00" font-family="Liberation Sans, Noto Sans CJK KR, sans-serif" font-size="12.0" font-weight="500" textLength="10.80" lengthAdjust="spacingAndGlyphs">만</text>
<text x="165.25" y="99.00" font-family="Liberation Sans, sans-serif" font-size="18.0" font-weight="700" letter-spacing="-0.4" textLength="30.70" lengthAdjust="spacingAndGlyphs" stroke="#000" stroke-width="0.2" stroke-linejoin="round">7980</text>
<text x="248.90" y="100.00" font-family="Liberation Sans, sans-serif" font-size="16.2" textLength="14.70" lengthAdjust="spacingAndGlyphs">10</text>
<text x="263.90" y="100.40" font-family="Liberation Sans, Noto Sans CJK KR, sans-serif" font-size="14.6" font-weight="500" textLength="12.00" lengthAdjust="spacingAndGlyphs">대</text>
<text x="496.40" y="99.90" font-family="Liberation Sans, sans-serif" font-size="18.0" font-weight="700" letter-spacing="-0.4" textLength="23.10" lengthAdjust="spacingAndGlyphs" stroke="#000" stroke-width="0.2" stroke-linejoin="round">458</text>
<text x="519.00" y="99.40" font-family="Liberation Sans, Noto Sans CJK KR, sans-serif" font-size="12.0" font-weight="500" textLength="10.80" lengthAdjust="spacingAndGlyphs">만</text>
<text x="529.60" y="99.90" font-family="Liberation Sans, sans-serif" font-size="18.0" font-weight="700" letter-spacing="-0.4" textLength="30.70" lengthAdjust="spacingAndGlyphs" stroke="#000" stroke-width="0.2" stroke-linejoin="round">6926</text>
<rect x="139.20" y="116.80" width="54.00" height="15.5" fill="#ffeb1e"/>
<text x="142.00" y="130.10" font-family="Liberation Sans, sans-serif" font-size="18.0" font-weight="700" letter-spacing="-0.4" textLength="7.90" lengthAdjust="spacingAndGlyphs" stroke="#000" stroke-width="0.2" stroke-linejoin="round">5</text>
<text x="149.40" y="129.10" font-family="Liberation Sans, Noto Sans CJK KR, sans-serif" font-size="12.0" font-weight="500" textLength="10.80" lengthAdjust="spacingAndGlyphs">만</text>
<text x="160.00" y="130.10" font-family="Liberation Sans, sans-serif" font-size="18.0" font-weight="700" letter-spacing="-0.4" textLength="30.70" lengthAdjust="spacingAndGlyphs" stroke="#000" stroke-width="0.2" stroke-linejoin="round">8749</text>
<text x="248.90" y="131.10" font-family="Liberation Sans, sans-serif" font-size="16.2" textLength="14.70" lengthAdjust="spacingAndGlyphs">20</text>
<text x="263.90" y="131.50" font-family="Liberation Sans, Noto Sans CJK KR, sans-serif" font-size="14.6" font-weight="500" textLength="12.00" lengthAdjust="spacingAndGlyphs">대</text>
<text x="536.20" y="131.00" font-family="Liberation Sans, sans-serif" font-size="18.0" font-weight="700" letter-spacing="-0.4" textLength="23.10" lengthAdjust="spacingAndGlyphs" stroke="#000" stroke-width="0.2" stroke-linejoin="round">605</text>
<text x="558.80" y="130.50" font-family="Liberation Sans, Noto Sans CJK KR, sans-serif" font-size="12.0" font-weight="500" textLength="10.80" lengthAdjust="spacingAndGlyphs">만</text>
<text x="569.40" y="131.00" font-family="Liberation Sans, sans-serif" font-size="18.0" font-weight="700" letter-spacing="-0.4" textLength="30.20" lengthAdjust="spacingAndGlyphs" stroke="#000" stroke-width="0.2" stroke-linejoin="round">1964</text>
<rect x="141.50" y="147.90" width="53.30" height="15.5" fill="#ffeb1e"/>
<text x="143.95" y="161.20" font-family="Liberation Sans, sans-serif" font-size="18.0" font-weight="700" letter-spacing="-0.4" textLength="7.90" lengthAdjust="spacingAndGlyphs" stroke="#000" stroke-width="0.2" stroke-linejoin="round">5</text>
<text x="151.35" y="160.20" font-family="Liberation Sans, Noto Sans CJK KR, sans-serif" font-size="12.0" font-weight="500" textLength="10.80" lengthAdjust="spacingAndGlyphs">만</text>
<text x="161.95" y="161.20" font-family="Liberation Sans, sans-serif" font-size="18.0" font-weight="700" letter-spacing="-0.4" textLength="30.70" lengthAdjust="spacingAndGlyphs" stroke="#000" stroke-width="0.2" stroke-linejoin="round">4975</text>
<text x="248.90" y="162.20" font-family="Liberation Sans, sans-serif" font-size="16.2" textLength="14.70" lengthAdjust="spacingAndGlyphs">30</text>
<text x="263.90" y="162.60" font-family="Liberation Sans, Noto Sans CJK KR, sans-serif" font-size="14.6" font-weight="500" textLength="12.00" lengthAdjust="spacingAndGlyphs">대</text>
<text x="551.00" y="162.10" font-family="Liberation Sans, sans-serif" font-size="18.0" font-weight="700" letter-spacing="-0.4" textLength="22.60" lengthAdjust="spacingAndGlyphs" stroke="#000" stroke-width="0.2" stroke-linejoin="round">651</text>
<text x="573.10" y="161.60" font-family="Liberation Sans, Noto Sans CJK KR, sans-serif" font-size="12.0" font-weight="500" textLength="10.80" lengthAdjust="spacingAndGlyphs">만</text>
<text x="583.70" y="162.10" font-family="Liberation Sans, sans-serif" font-size="18.0" font-weight="700" letter-spacing="-0.4" textLength="30.70" lengthAdjust="spacingAndGlyphs" stroke="#000" stroke-width="0.2" stroke-linejoin="round">8858</text>
<rect x="125.00" y="179.00" width="53.90" height="15.5" fill="#ffeb1e"/>
<text x="127.75" y="192.30" font-family="Liberation Sans, sans-serif" font-size="18.0" font-weight="700" letter-spacing="-0.4" textLength="7.90" lengthAdjust="spacingAndGlyphs" stroke="#000" stroke-width="0.2" stroke-linejoin="round">8</text>
<text x="135.15" y="191.30" font-family="Liberation Sans, Noto Sans CJK KR, sans-serif" font-size="12.0" font-weight="500" textLength="10.80" lengthAdjust="spacingAndGlyphs">만</text>
<text x="145.75" y="192.30" font-family="Liberation Sans, sans-serif" font-size="18.0" font-weight="700" letter-spacing="-0.4" textLength="30.70" lengthAdjust="spacingAndGlyphs" stroke="#000" stroke-width="0.2" stroke-linejoin="round">7652</text>
<text x="248.90" y="193.30" font-family="Liberation Sans, sans-serif" font-size="16.2" textLength="14.70" lengthAdjust="spacingAndGlyphs">40</text>
<text x="263.90" y="193.70" font-family="Liberation Sans, Noto Sans CJK KR, sans-serif" font-size="14.6" font-weight="500" textLength="12.00" lengthAdjust="spacingAndGlyphs">대</text>
<text x="584.90" y="193.20" font-family="Liberation Sans, sans-serif" font-size="18.0" font-weight="700" letter-spacing="-0.4" textLength="23.10" lengthAdjust="spacingAndGlyphs" stroke="#000" stroke-width="0.2" stroke-linejoin="round">775</text>
<text x="607.50" y="192.70" font-family="Liberation Sans, Noto Sans CJK KR, sans-serif" font-size="12.0" font-weight="500" textLength="10.80" lengthAdjust="spacingAndGlyphs">만</text>
<text x="618.10" y="193.20" font-family="Liberation Sans, sans-serif" font-size="18.0" font-weight="700" letter-spacing="-0.4" textLength="30.70" lengthAdjust="spacingAndGlyphs" stroke="#000" stroke-width="0.2" stroke-linejoin="round">9663</text>
<rect x="69.00" y="210.10" width="60.00" height="15.5" fill="#ffeb1e"/>
<text x="71.50" y="223.40" font-family="Liberation Sans, sans-serif" font-size="18.0" font-weight="700" letter-spacing="-0.4" textLength="15.00" lengthAdjust="spacingAndGlyphs" stroke="#000" stroke-width="0.2" stroke-linejoin="round">19</text>
<text x="86.00" y="222.40" font-family="Liberation Sans, Noto Sans CJK KR, sans-serif" font-size="12.0" font-weight="500" textLength="10.80" lengthAdjust="spacingAndGlyphs">만</text>
<text x="96.60" y="223.40" font-family="Liberation Sans, sans-serif" font-size="18.0" font-weight="700" letter-spacing="-0.4" textLength="30.20" lengthAdjust="spacingAndGlyphs" stroke="#000" stroke-width="0.2" stroke-linejoin="round">1065</text>
<text x="248.90" y="224.40" font-family="Liberation Sans, sans-serif" font-size="16.2" textLength="14.70" lengthAdjust="spacingAndGlyphs">50</text>
<text x="263.90" y="224.80" font-family="Liberation Sans, Noto Sans CJK KR, sans-serif" font-size="14.6" font-weight="500" textLength="12.00" lengthAdjust="spacingAndGlyphs">대</text>
<text x="606.00" y="224.30" font-family="Liberation Sans, sans-serif" font-size="18.0" font-weight="700" letter-spacing="-0.4" textLength="23.10" lengthAdjust="spacingAndGlyphs" stroke="#000" stroke-width="0.2" stroke-linejoin="round">853</text>
<text x="628.60" y="223.80" font-family="Liberation Sans, Noto Sans CJK KR, sans-serif" font-size="12.0" font-weight="500" textLength="10.80" lengthAdjust="spacingAndGlyphs">만</text>
<text x="639.20" y="224.30" font-family="Liberation Sans, sans-serif" font-size="18.0" font-weight="700" letter-spacing="-0.4" textLength="30.70" lengthAdjust="spacingAndGlyphs" stroke="#000" stroke-width="0.2" stroke-linejoin="round">5272</text>
<rect x="14.00" y="241.20" width="60.90" height="15.5" fill="#ffeb1e"/>
<text x="16.70" y="254.50" font-family="Liberation Sans, sans-serif" font-size="18.0" font-weight="700" letter-spacing="-0.4" textLength="15.50" lengthAdjust="spacingAndGlyphs" stroke="#000" stroke-width="0.2" stroke-linejoin="round">30</text>
<text x="31.70" y="253.50" font-family="Liberation Sans, Noto Sans CJK KR, sans-serif" font-size="12.0" font-weight="500" textLength="10.80" lengthAdjust="spacingAndGlyphs">만</text>
<text x="42.30" y="254.50" font-family="Liberation Sans, sans-serif" font-size="18.0" font-weight="700" letter-spacing="-0.4" textLength="30.20" lengthAdjust="spacingAndGlyphs" stroke="#000" stroke-width="0.2" stroke-linejoin="round">5159</text>
<text x="248.90" y="255.50" font-family="Liberation Sans, sans-serif" font-size="16.2" textLength="14.70" lengthAdjust="spacingAndGlyphs">60</text>
<text x="263.90" y="255.90" font-family="Liberation Sans, Noto Sans CJK KR, sans-serif" font-size="14.6" font-weight="500" textLength="12.00" lengthAdjust="spacingAndGlyphs">대</text>
<text x="575.00" y="255.40" font-family="Liberation Sans, sans-serif" font-size="18.0" font-weight="700" letter-spacing="-0.4" textLength="23.10" lengthAdjust="spacingAndGlyphs" stroke="#000" stroke-width="0.2" stroke-linejoin="round">740</text>
<text x="597.60" y="254.90" font-family="Liberation Sans, Noto Sans CJK KR, sans-serif" font-size="12.0" font-weight="500" textLength="10.80" lengthAdjust="spacingAndGlyphs">만</text>
<text x="608.20" y="255.40" font-family="Liberation Sans, sans-serif" font-size="18.0" font-weight="700" letter-spacing="-0.4" textLength="30.70" lengthAdjust="spacingAndGlyphs" stroke="#000" stroke-width="0.2" stroke-linejoin="round">8303</text>
<rect x="61.50" y="272.30" width="60.60" height="15.5" fill="#ffeb1e"/>
<text x="63.80" y="285.60" font-family="Liberation Sans, sans-serif" font-size="18.0" font-weight="700" letter-spacing="-0.4" textLength="15.50" lengthAdjust="spacingAndGlyphs" stroke="#000" stroke-width="0.2" stroke-linejoin="round">20</text>
<text x="78.80" y="284.60" font-family="Liberation Sans, Noto Sans CJK KR, sans-serif" font-size="12.0" font-weight="500" textLength="10.80" lengthAdjust="spacingAndGlyphs">만</text>
<text x="89.40" y="285.60" font-family="Liberation Sans, sans-serif" font-size="18.0" font-weight="700" letter-spacing="-0.4" textLength="30.70" lengthAdjust="spacingAndGlyphs" stroke="#000" stroke-width="0.2" stroke-linejoin="round">6576</text>
<text x="248.90" y="286.60" font-family="Liberation Sans, sans-serif" font-size="16.2" textLength="14.70" lengthAdjust="spacingAndGlyphs">70</text>
<text x="263.90" y="287.00" font-family="Liberation Sans, Noto Sans CJK KR, sans-serif" font-size="14.6" font-weight="500" textLength="12.00" lengthAdjust="spacingAndGlyphs">대</text>
<text x="477.50" y="286.50" font-family="Liberation Sans, sans-serif" font-size="18.0" font-weight="700" letter-spacing="-0.4" textLength="22.60" lengthAdjust="spacingAndGlyphs" stroke="#000" stroke-width="0.2" stroke-linejoin="round">381</text>
<text x="499.60" y="286.00" font-family="Liberation Sans, Noto Sans CJK KR, sans-serif" font-size="12.0" font-weight="500" textLength="10.80" lengthAdjust="spacingAndGlyphs">만</text>
<text x="510.20" y="286.50" font-family="Liberation Sans, sans-serif" font-size="18.0" font-weight="700" letter-spacing="-0.4" textLength="30.70" lengthAdjust="spacingAndGlyphs" stroke="#000" stroke-width="0.2" stroke-linejoin="round">6368</text>
<rect x="83.80" y="303.40" width="60.70" height="15.5" fill="#ffeb1e"/>
<text x="86.40" y="316.70" font-family="Liberation Sans, sans-serif" font-size="18.0" font-weight="700" letter-spacing="-0.4" textLength="15.00" lengthAdjust="spacingAndGlyphs" stroke="#000" stroke-width="0.2" stroke-linejoin="round">15</text>
<text x="100.90" y="315.70" font-family="Liberation Sans, Noto Sans CJK KR, sans-serif" font-size="12.0" font-weight="500" textLength="10.80" lengthAdjust="spacingAndGlyphs">만</text>
<text x="111.50" y="316.70" font-family="Liberation Sans, sans-serif" font-size="18.0" font-weight="700" letter-spacing="-0.4" textLength="30.70" lengthAdjust="spacingAndGlyphs" stroke="#000" stroke-width="0.2" stroke-linejoin="round">9390</text>
<text x="248.90" y="317.70" font-family="Liberation Sans, sans-serif" font-size="16.2" textLength="14.70" lengthAdjust="spacingAndGlyphs">80</text>
<text x="263.90" y="318.10" font-family="Liberation Sans, Noto Sans CJK KR, sans-serif" font-size="14.6" font-weight="500" textLength="12.00" lengthAdjust="spacingAndGlyphs">대</text>
<text x="425.00" y="317.60" font-family="Liberation Sans, sans-serif" font-size="18.0" font-weight="700" letter-spacing="-0.4" textLength="22.10" lengthAdjust="spacingAndGlyphs" stroke="#000" stroke-width="0.2" stroke-linejoin="round">191</text>
<text x="446.60" y="317.10" font-family="Liberation Sans, Noto Sans CJK KR, sans-serif" font-size="12.0" font-weight="500" textLength="10.80" lengthAdjust="spacingAndGlyphs">만</text>
<text x="457.20" y="317.60" font-family="Liberation Sans, sans-serif" font-size="18.0" font-weight="700" letter-spacing="-0.4" textLength="30.70" lengthAdjust="spacingAndGlyphs" stroke="#000" stroke-width="0.2" stroke-linejoin="round">4872</text>
<rect x="152.40" y="334.50" width="54.40" height="15.5" fill="#ffeb1e"/>
<text x="155.65" y="347.80" font-family="Liberation Sans, sans-serif" font-size="18.0" font-weight="700" letter-spacing="-0.4" textLength="7.90" lengthAdjust="spacingAndGlyphs" stroke="#000" stroke-width="0.2" stroke-linejoin="round">2</text>
<text x="163.05" y="346.80" font-family="Liberation Sans, Noto Sans CJK KR, sans-serif" font-size="12.0" font-weight="500" textLength="10.80" lengthAdjust="spacingAndGlyphs">만</text>
<text x="173.65" y="347.80" font-family="Liberation Sans, sans-serif" font-size="18.0" font-weight="700" letter-spacing="-0.4" textLength="30.20" lengthAdjust="spacingAndGlyphs" stroke="#000" stroke-width="0.2" stroke-linejoin="round">8316</text>
<text x="248.90" y="348.80" font-family="Liberation Sans, sans-serif" font-size="16.2" textLength="14.70" lengthAdjust="spacingAndGlyphs">90</text>
<text x="263.90" y="349.20" font-family="Liberation Sans, Noto Sans CJK KR, sans-serif" font-size="14.6" font-weight="500" textLength="12.00" lengthAdjust="spacingAndGlyphs">대</text>
<text x="377.50" y="348.70" font-family="Liberation Sans, sans-serif" font-size="18.0" font-weight="700" letter-spacing="-0.4" textLength="15.50" lengthAdjust="spacingAndGlyphs" stroke="#000" stroke-width="0.2" stroke-linejoin="round">28</text>
<text x="392.50" y="348.20" font-family="Liberation Sans, Noto Sans CJK KR, sans-serif" font-size="12.0" font-weight="500" textLength="10.80" lengthAdjust="spacingAndGlyphs">만</text>
<text x="403.10" y="348.70" font-family="Liberation Sans, sans-serif" font-size="18.0" font-weight="700" letter-spacing="-0.4" textLength="30.70" lengthAdjust="spacingAndGlyphs" stroke="#000" stroke-width="0.2" stroke-linejoin="round">4352</text>
<rect x="192.00" y="365.60" width="29.60" height="15.5" fill="#ffeb1e"/>
<text x="195.65" y="378.90" font-family="Liberation Sans, sans-serif" font-size="18.0" font-weight="700" letter-spacing="-0.4" textLength="22.60" lengthAdjust="spacingAndGlyphs" stroke="#000" stroke-width="0.2" stroke-linejoin="round">721</text>
<text x="229.90" y="379.90" font-family="Liberation Sans, sans-serif" font-size="16.2" textLength="20.70" lengthAdjust="spacingAndGlyphs">100</text>
<text x="250.90" y="380.30" font-family="Liberation Sans, Noto Sans CJK KR, sans-serif" font-size="14.6" font-weight="500" textLength="44.00" lengthAdjust="spacingAndGlyphs">세 이상</text>
<text x="361.50" y="379.80" font-family="Liberation Sans, sans-serif" font-size="18.0" font-weight="700" letter-spacing="-0.4" textLength="30.70" lengthAdjust="spacingAndGlyphs" stroke="#000" stroke-width="0.2" stroke-linejoin="round">8055</text>
<rect x="164.3" y="21.2" width="61.70" height="21.20" rx="10.60" ry="10.60" fill="#fff" stroke="#1a56a2" stroke-width="1.15"/><text x="176.10" y="37.10" font-family="Liberation Sans, Noto Sans CJK KR, sans-serif" font-size="14.5" font-weight="700" textLength="37.50" lengthAdjust="spacingAndGlyphs" fill="#1a56a2">무약촌</text>
<rect x="299.6" y="21.2" width="60.80" height="21.20" rx="10.60" ry="10.60" fill="#fff" stroke="#0a9d94" stroke-width="1.15"/><text x="310.95" y="37.10" font-family="Liberation Sans, Noto Sans CJK KR, sans-serif" font-size="14.5" font-weight="700" textLength="37.50" lengthAdjust="spacingAndGlyphs" fill="#0a9d94">유약촌</text>
<text x="395.60" y="34.50" font-family="Liberation Sans, Noto Sans CJK KR, sans-serif" font-size="21" font-weight="700" textLength="272.60" lengthAdjust="spacingAndGlyphs" stroke="#000" stroke-width="0.4" stroke-linejoin="round">무약촌과 유약촌의 인구 피라미드</text>
<text x="622.00" y="51.60" font-family="Liberation Sans, Noto Sans CJK KR, sans-serif" font-size="12.2" font-weight="500" textLength="46.00" lengthAdjust="spacingAndGlyphs">(단위: 명)</text>
<text x="494.00" y="387.40" font-family="Liberation Sans, Noto Sans CJK KR, sans-serif" font-size="13" font-weight="500" textLength="27.50" lengthAdjust="spacingAndGlyphs">*자료:</text>
<text x="529.00" y="387.40" font-family="Liberation Sans, Noto Sans CJK KR, sans-serif" font-size="13" font-weight="500" textLength="50.60" lengthAdjust="spacingAndGlyphs">행정안전부</text>
<text x="584.40" y="387.40" font-family="Liberation Sans, Noto Sans CJK KR, sans-serif" font-size="13" font-weight="500" textLength="40.60" lengthAdjust="spacingAndGlyphs">행정동별</text>
<text x="628.20" y="387.40" font-family="Liberation Sans, Noto Sans CJK KR, sans-serif" font-size="13" font-weight="500" textLength="39.20" lengthAdjust="spacingAndGlyphs">인구현황</text>
<g id="wm">
<text x="471.00" y="417.60" font-family="Liberation Sans, sans-serif" font-size="19.5" font-weight="700" textLength="32.50" lengthAdjust="spacingAndGlyphs" fill="#9a9a9a" font-style="italic" filter="url(#wmb)">MT</text><text x="470.00" y="416.60" font-family="Liberation Sans, sans-serif" font-size="19.5" font-weight="700" textLength="32.50" lengthAdjust="spacingAndGlyphs" fill="#fff" font-style="italic">MT</text>
<g fill="none"><ellipse cx="518.6" cy="412.4" rx="12.0" ry="11.2" stroke="#a8a8a8" stroke-width="1.0" filter="url(#wmb)"/><ellipse cx="518.0" cy="411.6" rx="12.2" ry="11.4" stroke="#fff" stroke-width="2.2"/><g transform="translate(521.6,409.6) rotate(-52)"><ellipse cx="0.3" cy="1.0" rx="11.6" ry="7.2" stroke="#9a9a9a" stroke-width="1.2" filter="url(#wmb)"/><ellipse cx="0" cy="0" rx="11.6" ry="7.2" stroke="#fff" stroke-width="2.0"/></g></g>
<text x="538.80" y="421.30" font-family="Liberation Sans, Noto Sans CJK KR, sans-serif" font-size="30.5" font-weight="700" textLength="129.50" lengthAdjust="spacingAndGlyphs" fill="#9a9a9a"  filter="url(#wmb)">머니투데이</text><text x="537.80" y="420.30" font-family="Liberation Sans, Noto Sans CJK KR, sans-serif" font-size="30.5" font-weight="700" textLength="129.50" lengthAdjust="spacingAndGlyphs" fill="#fff">머니투데이</text>
</g>
</svg>
</body>
</html>
